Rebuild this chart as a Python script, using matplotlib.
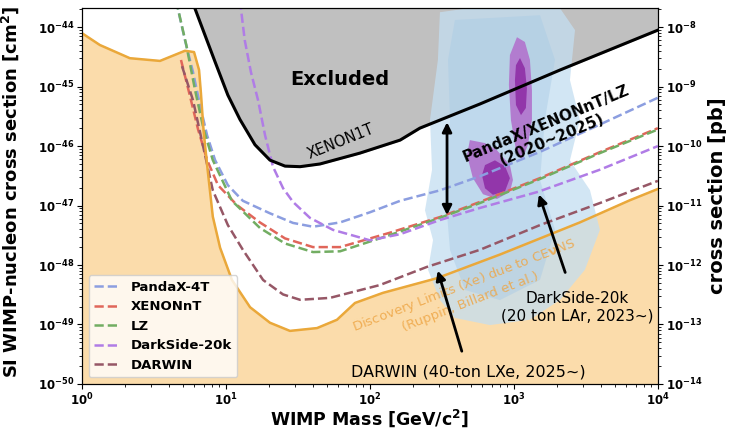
import matplotlib
matplotlib.use("Agg")
import matplotlib.pyplot as plt
import numpy as np

plt.rcParams['font.family'] = ['DejaVu Sans']
plt.rcParams['font.weight'] = 'bold'
plt.rcParams['mathtext.default'] = 'bf'

# XENON1T limit (GeV, cm^2)
x1t_mass = [5.8, 7.15, 8.4, 10.3, 12.5, 15.9, 20.2, 25.7, 32.7, 45, 85, 162, 222, 581, 2090, 10000]
x1t_sig = [2.8e-44, 7.3e-45, 2.6e-45, 7.2e-46, 2.8e-46, 1.05e-46, 5.8e-47, 4.6e-47, 4.5e-47, 5.0e-47,
           7.6e-47, 1.26e-46, 2.0e-46, 5.1e-46, 1.9e-45, 8.9e-45]

# neutrino discovery limit (Xe)
nu_mass = [1.0, 1.33, 2.15, 3.48, 5.19, 6.0, 6.5, 6.7, 7.0, 7.5, 8.1, 9.1, 11.0, 14.7, 20.2, 27.8,
           42.9, 59, 78.7, 123, 292, 800, 2870, 6400, 10000]
nu_sig = [7.9e-45, 5.0e-45, 3.0e-45, 2.7e-45, 4.0e-45, 3.8e-45, 1.9e-45, 7.7e-46, 1.7e-46, 3.5e-47,
          6.5e-48, 1.95e-48, 5.6e-49, 1.95e-49, 1.07e-49, 7.8e-50, 8.7e-50, 1.2e-49, 2.3e-49, 3.4e-49,
          6.0e-49, 1.5e-48, 5.2e-48, 1.23e-47, 1.9e-47]

# projected sensitivities
pandax_mass = [4.5, 5.19, 5.9, 6.6, 7.4, 8.4, 10.3, 13.1, 20.2, 29.2, 40.2, 62, 100, 162, 306, 580, 1520, 3950, 10000]
pandax_sig = [2.8e-44, 6.0e-45, 1.75e-45, 4.9e-46, 1.5e-46, 5.8e-47, 2.2e-47, 1.2e-47, 7.4e-48, 5.1e-48,
              4.4e-48, 5.2e-48, 7.7e-48, 1.2e-47, 1.8e-47, 3.1e-47, 8.0e-47, 2.3e-46, 6.5e-46]

xenonnt_mass = [4.87, 5.6, 6.4, 7.4, 8.8, 11.9, 17.2, 25.7, 40.2, 62, 138, 306, 580, 1520, 3950, 10000]
xenonnt_sig = [2.8e-45, 7.2e-46, 1.9e-46, 5.8e-47, 2.2e-47, 1.02e-47, 5.2e-48, 2.8e-48, 2.0e-48, 2.0e-48,
               3.5e-48, 6.4e-48, 1.15e-47, 2.9e-47, 7.9e-47, 2.0e-46]

lz_mass = [4.5, 5.3, 6.1, 7.0, 8.1, 11.0, 17.2, 25.7, 40.2, 62, 138, 306, 580, 1520, 3950, 10000]
lz_sig = [2.8e-44, 5.0e-45, 8.7e-46, 1.9e-46, 5.8e-47, 1.2e-47, 4.2e-48, 2.3e-48, 1.65e-48, 1.7e-48,
          3.2e-48, 6.2e-48, 1.1e-47, 2.8e-47, 7.6e-47, 1.9e-46]

ds20k_mass = [12.5, 13.5, 14.9, 16.7, 18.7, 21.2, 24.9, 29.2, 38.3, 55.3, 100, 162, 306, 580, 1470, 3950, 10000]
ds20k_sig = [2.8e-44, 6.0e-45, 1.75e-45, 5.9e-46, 1.5e-46, 4.5e-47, 1.96e-47, 1.15e-47, 6.2e-48, 3.9e-48,
             2.6e-48, 3.3e-48, 5.7e-48, 9.1e-48, 1.7e-47, 4.0e-47, 1.0e-46]

darwin_mass = [4.95, 5.45, 5.9, 6.9, 8.1, 10.3, 13.1, 18.1, 24.9, 32.7, 52.7, 117, 249, 580, 1520, 3950, 10000]
darwin_sig = [2.2e-45, 1.07e-45, 5.9e-46, 1.05e-46, 1.8e-47, 4.7e-48, 1.8e-48, 5.6e-49, 3.2e-49, 2.6e-49,
              2.8e-49, 4.6e-49, 9.3e-49, 1.8e-48, 4.7e-48, 1.1e-47, 2.6e-47]

# signal region outlines (log10 mass, log10 sigma)
blue_out_lm = [2.486, 2.694, 3.319, 3.424, 3.389, 3.458, 3.389, 3.528, 3.597, 3.493, 3.319, 3.111, 2.833,
               2.590, 2.486, 2.403, 2.438, 2.382, 2.431, 2.417, 2.472]
blue_out_ls = [-43.75, -43.68, -43.68, -44.05, -44.89, -45.56, -46.24, -46.74, -47.41, -48.08, -48.59, -48.92,
               -49.01, -48.89, -48.59, -48.08, -47.58, -47.08, -46.40, -45.56, -44.55]
blue_in_lm = [2.59, 3.181, 3.285, 3.215, 3.181, 3.285, 3.181, 2.903, 2.66, 2.556, 2.521, 2.556, 2.542]
blue_in_ls = [-43.88, -43.80, -44.55, -45.56, -46.57, -47.41, -48.25, -48.59, -48.42, -47.75, -46.74, -45.56, -44.55]

tall_out_lm = [3.021, 3.076, 3.111, 3.125, 3.125, 3.097, 3.056, 3.014, 2.979, 2.965, 2.972]
tall_out_ls = [-44.17, -44.25, -44.55, -45.06, -45.56, -45.98, -46.24, -46.07, -45.56, -44.97, -44.47]
tall_in_lm = [3.042, 3.076, 3.090, 3.083, 3.049, 3.014, 3.007, 3.014]
tall_in_ls = [-44.52, -44.69, -45.03, -45.36, -45.48, -45.31, -44.89, -44.64]
low_out_lm = [2.694, 2.799, 2.882, 2.972, 2.993, 2.972, 2.882, 2.785, 2.715, 2.674]
low_out_ls = [-45.90, -45.95, -46.07, -46.32, -46.57, -46.77, -46.89, -46.81, -46.54, -46.15]
low_in_lm = [2.799, 2.868, 2.938, 2.972, 2.938, 2.854, 2.799, 2.778]
low_in_ls = [-46.32, -46.24, -46.34, -46.54, -46.76, -46.82, -46.71, -46.49]

ylo, yhi = 1e-50, 2.1e-44

fig = plt.figure(figsize=(7.29, 4.29), dpi=100)
ax = fig.add_axes([0.1125, 0.105, 0.79, 0.8765])
ax.set_xscale('log')
ax.set_yscale('log')

ax.fill_between(x1t_mass, x1t_sig, 1e-40, color='#c0c0c0', zorder=1)
ax.fill_between(nu_mass, 1e-52, nu_sig, color='#fbdcab', zorder=1)

def poly(lm, ls, **kw):
    ax.fill(10 ** np.array(lm), 10 ** np.array(ls), lw=0, **kw)

poly(blue_out_lm, blue_out_ls, color='#c4def1', alpha=0.75, zorder=2)
poly(blue_in_lm, blue_in_ls, color='#a8cbe6', alpha=0.45, zorder=2)
poly(tall_out_lm, tall_out_ls, color='#b27ccf', zorder=3)
poly(tall_in_lm, tall_in_ls, color='#9236aa', zorder=3)
poly(low_out_lm, low_out_ls, color='#b27ccf', zorder=3)
poly(low_in_lm, low_in_ls, color='#9236aa', zorder=3)

dash = dict(ls='--', lw=1.8, zorder=4)
ax.plot(pandax_mass, pandax_sig, color='#8c9ee0', label='PandaX-4T', **dash)
ax.plot(xenonnt_mass, xenonnt_sig, color='#e0665a', label='XENONnT', **dash)
ax.plot(lz_mass, lz_sig, color='#72ad62', label='LZ', **dash)
ax.plot(ds20k_mass, ds20k_sig, color='#b07ce6', label='DarkSide-20k', **dash)
ax.plot(darwin_mass, darwin_sig, color='#965766', label='DARWIN', **dash)

ax.plot(x1t_mass, x1t_sig, color='black', lw=2.2, zorder=5)
ax.plot(nu_mass, nu_sig, color='#eaa83a', lw=1.8, zorder=5)

ax.set_xlim(1, 1e4)
ax.set_ylim(ylo, yhi)
ax.set_xlabel('WIMP Mass [GeV/c$^{2}$]', fontsize=12.5, fontweight='bold')
ax.set_ylabel('SI WIMP-nucleon cross section [cm$^{2}$]', fontsize=13, fontweight='bold')
ax.xaxis.set_label_coords(0.5, -0.062)
ax.yaxis.set_label_coords(-0.106, 0.51)
ax.tick_params(labelsize=8.5, pad=2)

ax.text(62, 1.3e-45, 'Excluded', fontsize=14, fontweight='bold', ha='center', va='center', zorder=6)
ax.text(63, 1.17e-46, 'XENON1T', fontsize=10.5, fontweight='normal', rotation=22,
        ha='center', va='center', zorder=6)
ax.text(1750, 1.73e-46, 'PandaX/XENONnT/LZ\n(2020~2025)', fontsize=11, fontweight='bold',
        rotation=22.5, ha='center', va='center', multialignment='center', zorder=6)
ax.text(472, 3.4e-49, 'Discovery Limits (Xe) due to CE$\\nu$NS\n(Ruppin, Billard et al.)', fontsize=9.5,
        fontweight='normal', color='#eea646', alpha=0.85, rotation=21, ha='center', va='center',
        multialignment='center', zorder=6)

ax.annotate('', xy=(343, 2.8e-46), xytext=(343, 6.2e-48),
            arrowprops=dict(arrowstyle='<|-|>', color='black', lw=2, mutation_scale=14), zorder=6)
ax.annotate('DarkSide-20k\n(20 ton LAr, 2023~)', xy=(1470, 1.7e-47), xytext=(2738, 1.95e-49),
            fontsize=11, fontweight='normal', ha='center', va='center', zorder=6,
            arrowprops=dict(arrowstyle='-|>', color='black', lw=2, mutation_scale=14, shrinkA=12))
ax.annotate('DARWIN (40-ton LXe, 2025~)', xy=(292, 8.9e-49), xytext=(480, 1.58e-50),
            fontsize=11.5, fontweight='normal', ha='center', va='center', zorder=6,
            arrowprops=dict(arrowstyle='-|>', color='black', lw=2, mutation_scale=14, shrinkA=8))

leg = ax.legend(loc='lower left', frameon=True, prop={'weight': 'bold', 'size': 9.5})
leg.set_zorder(7)

ax2 = ax.twinx()
ax2.set_yscale('log')
ax2.set_ylim(ylo * 1e36, yhi * 1e36)
ax2.set_ylabel('cross section [pb]', fontsize=14, fontweight='bold')
ax2.yaxis.set_label_coords(1.087, 0.5)
ax2.tick_params(labelsize=8.5, pad=2)

fig.savefig('out.png', dpi=100)
